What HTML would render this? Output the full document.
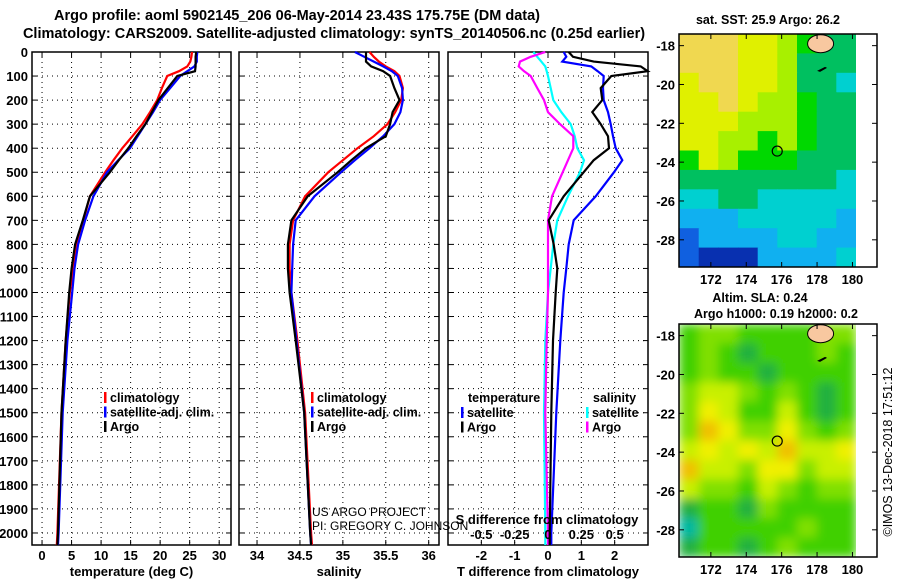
<!DOCTYPE html>
<html><head><meta charset="utf-8">
<style>
body{margin:0;background:#fff;}
svg{display:block;font-family:"Liberation Sans",sans-serif;font-weight:bold;}
</style></head>
<body>
<svg id="c" width="900" height="580" viewBox="0 0 900 580">
<defs>
<filter id="blur" x="-0.1" y="-0.1" width="1.2" height="1.2"><feGaussianBlur stdDeviation="5"/></filter>
<clipPath id="clipTop"><rect x="679" y="34" width="177" height="233"/></clipPath>
<clipPath id="clipBot"><rect x="679" y="324" width="177" height="233"/></clipPath>
</defs>
<g id="root"></g>
</svg>
<script>
// ---- data ----
const depths=[0,20,40,60,80,100,150,200,250,300,350,400,450,500,600,700,800,900,1000,1200,1500,2000,2050];
const tClim=[25.4,25.3,25.1,24.6,23.2,21.2,20.3,19.5,18.3,17.0,15.3,13.6,12.1,10.7,8.1,7.0,5.9,5.3,4.7,4.0,3.3,2.6,2.5];
const tSat=[26.3,26.2,26.2,25.8,24.6,23.4,21.7,20.0,18.8,17.5,16.2,14.9,12.9,11.0,8.7,7.3,6.1,5.5,5.1,4.3,3.5,2.8,2.7];
const tArgo=[26.1,26.0,26.0,26.0,25.9,22.9,21.3,19.7,18.6,17.5,16.0,14.6,13.0,11.5,8.1,6.9,5.6,5.0,4.6,4.0,3.3,2.7,2.6];
const sClim=[35.31,35.36,35.42,35.50,35.60,35.66,35.70,35.68,35.61,35.52,35.36,35.17,35.00,34.83,34.56,34.42,34.38,34.38,34.40,34.47,34.56,34.63,34.64];
const sSat=[35.14,35.25,35.36,35.47,35.57,35.64,35.69,35.70,35.67,35.60,35.47,35.31,35.14,34.98,34.67,34.45,34.42,34.41,34.40,34.46,34.55,34.62,34.63];
const sArgo=[35.27,35.27,35.27,35.33,35.47,35.55,35.60,35.66,35.58,35.55,35.50,35.27,35.10,34.94,34.59,34.40,34.36,34.36,34.38,34.45,34.55,34.62,34.63];
const dTArgo=[0.62,0.75,1.37,2.78,2.99,1.9,1.58,1.63,1.33,1.58,1.8,1.83,1.37,1.07,0.47,0.02,0.17,0.28,0.23,0.15,0.1,0.05,0.05];
const dTSat=[0.47,0.55,0.43,1.3,1.49,1.67,1.65,1.67,1.8,1.88,1.95,2.03,2.23,1.98,1.43,0.77,0.62,0.55,0.47,0.37,0.25,0.1,0.1];
const dSSat=[-0.11,-0.08,-0.05,-0.02,-0.01,0,0.02,0.04,0.1,0.17,0.2,0.22,0.27,0.24,0.15,0.07,0.04,0.02,0,-0.02,-0.03,-0.02,-0.02];
const dSArgo=[-0.02,-0.13,-0.21,-0.22,-0.18,-0.13,-0.08,-0.03,0,0.09,0.19,0.19,0.15,0.11,0.03,0,0,0,0,-0.01,-0.02,0,0];
const depthTicks=[0,100,200,300,400,500,600,700,800,900,1000,1100,1200,1300,1400,1500,1600,1700,1800,1900,2000];
const tTicks=[0,5,10,15,20,25,30];
const sTicks=[34,34.5,35,35.5,36];
const dTTicks=[-2,-1,0,1,2];
const dSTicks=[-0.5,-0.25,0,0.25,0.5];
const dSLabels=["-0.5","-0.25","0","0.25","0.5"];
const lonTicks=[172,174,176,178,180];
const latTicks=[-18,-20,-22,-24,-26,-28];
const sstGrid=[
[8,8,8,7,7,6,5,4,4],[8,8,8,7,7,6,4,4,4],[7,8,8,7,7,6,4,4,3],[7,7,8,7,6,6,5,4,4],
[7,7,7,6,6,6,5,4,4],[7,7,6,6,5,6,5,4,4],[5,7,6,5,5,5,4,4,4],[4,4,4,4,4,4,4,4,3],
[3,3,4,4,3,3,3,3,3],[2,2,2,3,3,3,3,3,2],[1,2,2,2,2,3,3,2,2],[1,0,0,0,2,2,2,2,3]];
const slaGrid=[
[2,3,3,2,2,2,2,3,3],[2,3,2,1,2,2,2,3,2],[2,3,2,2,1,2,2,2,2],[3,4,4,3,2,3,2,1,2],
[3,5,4,2,2,4,2,1,2],[3,6,5,3,3,5,3,2,3],[4,5,4,5,4,6,4,4,5],[6,4,4,3,5,5,3,4,4],
[4,3,3,2,4,3,2,3,3],[1,2,2,1,3,2,2,2,2],[0,2,2,2,2,2,3,2,2],[1,2,2,1,2,3,2,2,2]];
const sstColors=["#0830b0","#1060e0","#10b0f0","#00d0d0","#00c060","#00d800","#a8f000","#e0f000","#f0d850"];
const slaColors=["#00b8a0","#20b040","#40d000","#80e000","#c8f000","#f0f000","#f0c000"];

// ---- helpers ----
const NS="http://www.w3.org/2000/svg";
const root=document.getElementById('root');
function mk(tag,attrs,parent){const e=document.createElementNS(NS,tag);for(const k in attrs)e.setAttribute(k,attrs[k]);(parent||root).appendChild(e);return e;}
function txt(x,y,s,size,anchor,parent,w){const e=mk('text',{x:x,y:y,'font-size':size,'text-anchor':anchor||'middle'},parent);if(w)e.setAttribute('font-weight',w);e.textContent=s;return e;}

const Y0=52,Y1=545;
const yD=d=>Y0+(d/2050)*(Y1-Y0);
function lin(d0,d1,r0,r1){return v=>r0+(v-d0)/(d1-d0)*(r1-r0);}

const panels=[
 {x0:32,x1:231,sx:lin(-1.7,32,32,231),ticks:tTicks,labels:tTicks.map(String),label:"temperature (deg C)"},
 {x0:239,x1:439,sx:lin(33.79,36.12,239,439),ticks:sTicks,labels:["34","34.5","35","35.5","36"],label:"salinity"},
 {x0:448,x1:648,sx:lin(-3,3,448,648),ticks:dTTicks,labels:dTTicks.map(String),label:"T difference from climatology"}
];

// title
let g=mk('g',{});

txt(297,20,"Argo profile: aoml 5902145_206 06-May-2014 23.43S 175.75E (DM data)",14.5,'middle',g);
txt(334,38,"Climatology: CARS2009. Satellite-adjusted climatology: synTS_20140506.nc (0.25d earlier)",14.5,'middle',g);

// depth labels
g=mk('g',{});
depthTicks.forEach(d=>txt(28,yD(d)+5,String(d),13,'end',g));

panels.forEach((p,i)=>{
 const pg=mk('g',{});
 
 
 depthTicks.forEach(d=>{if(d>0){mk('line',{x1:p.x0,x2:p.x1,y1:yD(d),y2:yD(d),stroke:'#000','stroke-dasharray':'1,4','stroke-width':1},pg);
   mk('line',{x1:p.x0,x2:p.x0+5,y1:yD(d),y2:yD(d),stroke:'#000'},pg);mk('line',{x1:p.x1-5,x2:p.x1,y1:yD(d),y2:yD(d),stroke:'#000'},pg);}});
 p.ticks.forEach((t,j)=>{const x=p.sx(t);
   mk('line',{x1:x,x2:x,y1:Y0,y2:Y1,stroke:'#000','stroke-dasharray':'1,4'},pg);
   mk('line',{x1:x,x2:x,y1:Y1-5,y2:Y1,stroke:'#000'},pg);mk('line',{x1:x,x2:x,y1:Y0,y2:Y0+5,stroke:'#000'},pg);
   txt(x,560,p.labels[j],13,'middle',pg);});
 mk('rect',{x:p.x0,y:Y0,width:p.x1-p.x0,height:Y1-Y0,fill:'none',stroke:'#000','stroke-width':1.5},pg);
 const lb=txt((p.x0+p.x1)/2,576,p.label,13,'middle',pg);
 
});

function line(vals,sx,color,name){
 const pts=vals.map((v,i)=>sx(v).toFixed(1)+','+yD(depths[i]).toFixed(1)).join(' ');
 const e=mk('polyline',{points:pts,fill:'none',stroke:color,'stroke-width':2.2});
 
 
}
const p1=panels[0],p2=panels[1],p3=panels[2];
line(tClim,p1.sx,'#f00','temperature-climatology-line');
line(tSat,p1.sx,'#00f','temperature-satellite-line');
line(tArgo,p1.sx,'#000','temperature-argo-line');
line(sClim,p2.sx,'#f00','salinity-climatology-line');
line(sSat,p2.sx,'#00f','salinity-satellite-line');
line(sArgo,p2.sx,'#000','salinity-argo-line');
const sxS=lin(-0.75,0.75,448,648);
line(dSSat,sxS,'#00ffff','s-diff-satellite-line');
line(dSArgo,sxS,'#ff00ff','s-diff-argo-line');
line(dTSat,p3.sx,'#00f','t-diff-satellite-line');
line(dTArgo,p3.sx,'#000','t-diff-argo-line');

g=mk('g',{});
txt(547,524,"S difference from climatology",13,'middle',g);
dSTicks.forEach((t,j)=>txt(sxS(t),539,dSLabels[j],13,'middle',g));

function legend(x,y,items,name){
 const lg=mk('g',{});
 items.forEach((it,k)=>{const yy=y+k*14.5;
  if(it[1])mk('rect',{x:x,y:yy-10,width:2.5,height:11,fill:it[1]},lg);
  txt(x+(it[1]?6:0),yy,it[0],12.5,'start',lg);});
}
legend(104,402,[["climatology","#f00"],["satellite-adj. clim.","#00f"],["Argo","#000"]],'temperature-legend');
legend(311,402,[["climatology","#f00"],["satellite-adj. clim.","#00f"],["Argo","#000"]],'salinity-legend');
legend(468,402,[["temperature",null]],'t-diff-legend-title');
legend(461,417,[["satellite","#00f"],["Argo","#000"]],'t-diff-legend');
legend(593,402,[["salinity",null]],'s-diff-legend-title');
legend(586,417,[["satellite","#00ffff"],["Argo","#ff00ff"]],'s-diff-legend');

g=mk('g',{});
txt(312,516,"US ARGO PROJECT",12,'start',g,'normal');
txt(312,530,"PI: GREGORY C. JOHNSON",12,'start',g,'normal');

// maps
const lonX=lin(170.2,180.2,679,856);
function map(top,grid,colors,clip,blur,name,titleLines){
 const mg=mk('g',{});
 const latY=lin(-17.4,-29.4,top,top+233);
 titleLines.forEach(t=>txt(t[0],t[1],t[2],12.5,'middle',mg));
 const cg=mk('g',{'clip-path':'url(#'+clip+')'},mg);
 const ig=mk('g',blur?{filter:'url(#blur)'}:{},cg);
 const cw=177/9,ch=233/12;
 grid.forEach((row,r)=>row.forEach((v,c)=>{
  const cell=mk('rect',{x:(679+c*cw).toFixed(1),y:(top+r*ch).toFixed(1),width:(cw+0.6).toFixed(1),height:(ch+0.6).toFixed(1),fill:colors[v]},ig);
  
 }));
 mk('ellipse',{cx:lonX(178.2),cy:latY(-17.9),rx:13,ry:9,fill:'#f8c8a0',stroke:'#000','stroke-width':1},mg);
 mk('path',{d:`M${lonX(178.0)} ${latY(-19.3)} l8 -4 l2 1 l-7 4z`,fill:'#000'},mg);
 const loc=mk('circle',{cx:lonX(175.75),cy:latY(-23.43),r:5,fill:'none',stroke:'#000','stroke-width':1.2},mg);
 
 mk('rect',{x:679,y:top,width:198,height:233,fill:'none',stroke:'#000','stroke-width':1.5},mg);
 latTicks.forEach(l=>{const y=latY(l);
  mk('line',{x1:679,x2:684,y1:y,y2:y,stroke:'#000'},mg);mk('line',{x1:872,x2:877,y1:y,y2:y,stroke:'#000'},mg);
  txt(675,y+5,String(l),13,'end',mg);});
 lonTicks.forEach(l=>{const x=lonX(l);
  mk('line',{x1:x,x2:x,y1:top+228,y2:top+233,stroke:'#000'},mg);mk('line',{x1:x,x2:x,y1:top,y2:top+5,stroke:'#000'},mg);
  txt(x,top+250,String(l),13,'middle',mg);});
}
map(34,sstGrid,sstColors,'clipTop',false,'sst-map',[[768,24,"sat. SST: 25.9 Argo: 26.2"]]);
map(324,slaGrid,slaColors,'clipBot',true,'sla-map',[[760,302,"Altim. SLA: 0.24"],[776,318,"Argo h1000: 0.19 h2000: 0.2"]]);

g=mk('text',{x:0,y:0,'font-size':12.5,'text-anchor':'middle','font-weight':'normal',transform:'translate(892,452) rotate(-90)'});


g.textContent="©IMOS 13-Dec-2018 17:51:12";
</script>
</body></html>
